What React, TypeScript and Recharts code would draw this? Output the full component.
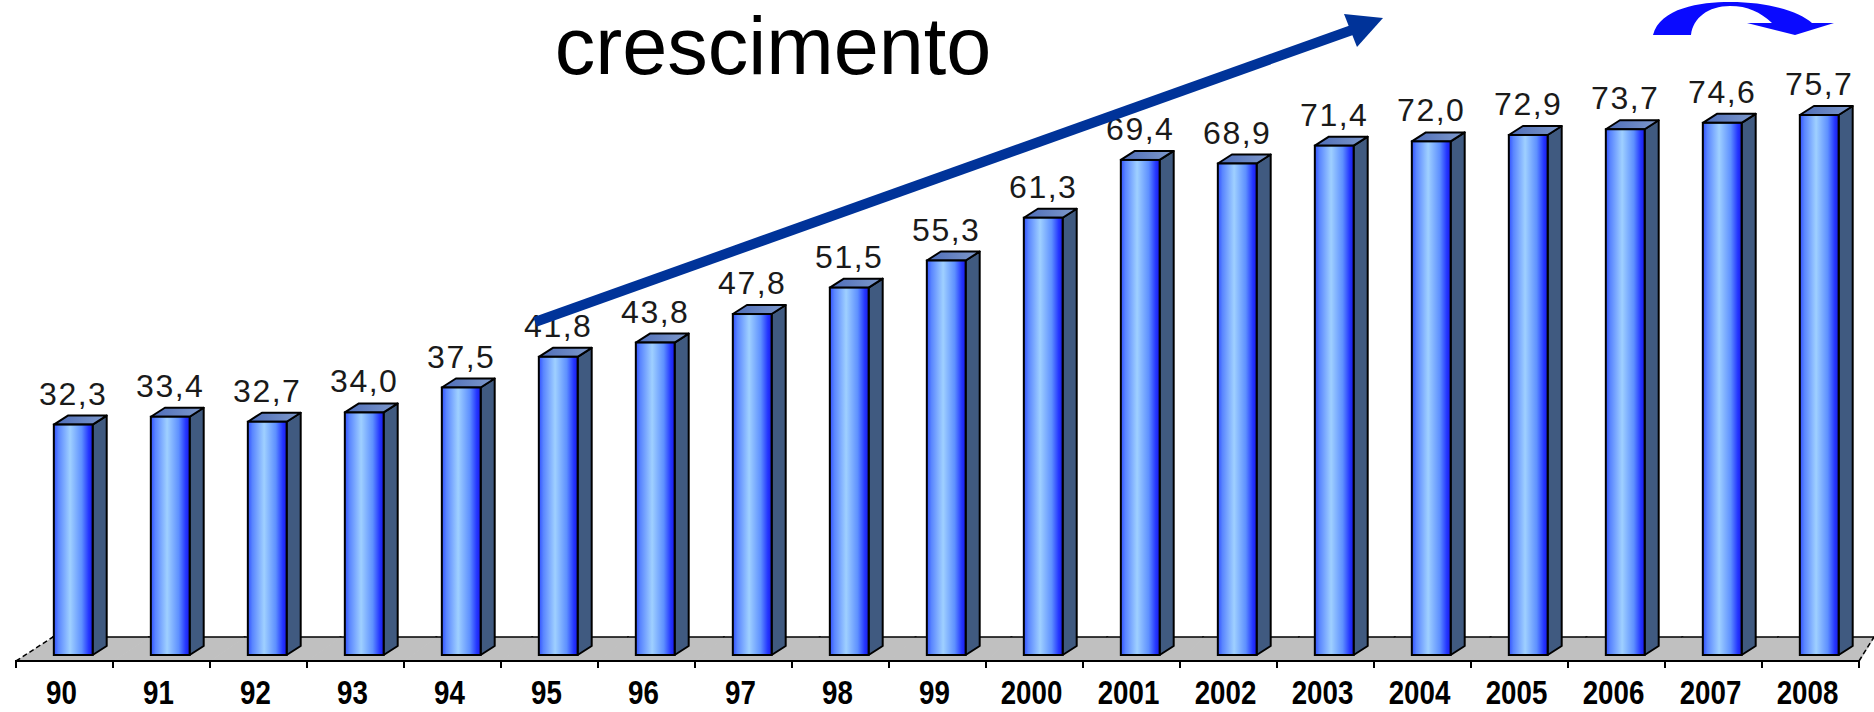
import React from "react";
import { BarChart, Bar, XAxis, YAxis, LabelList } from "recharts";

const years = ["90", "91", "92", "93", "94", "95", "96", "97", "98", "99", "2000", "2001", "2002", "2003", "2004", "2005", "2006", "2007", "2008"];
const values = [32.3, 33.4, 32.7, 34.0, 37.5, 41.8, 43.8, 47.8, 51.5, 55.3, 61.3, 69.4, 68.9, 71.4, 72.0, 72.9, 73.7, 74.6, 75.7];
const title = "crescimento";

const data = years.map((year, i) => ({ year, value: values[i] }));

const W = 1874;
const H = 712;

function fmt(v: number): string {
  return v.toFixed(1).replace(".", ",");
}

// 3D column + its slice of the gray floor
function Column3D(props: any) {
  const { x, y, width, height, index } = props;
  const n = years.length;
  const bottom = y + height;
  const fx = x + width * 0.39;
  const fw = width * 0.4;
  const dx = width * 0.145;
  const dy = 9;
  const front = bottom + 6;
  const back = bottom - 18;
  const skewL = 37 - (22 * index) / n;
  const skewR = 37 - (22 * (index + 1)) / n;
  const x2 = x + width;
  const isFirst = index === 0;
  const isLast = index === n - 1;
  return (
    <g>
      <polygon
        points={`${x},${front} ${x2 + 1},${front} ${x2 + 1 + skewR},${back} ${x + skewL},${back}`}
        fill="#c0c0c0"
      />
      <line x1={x - 1} y1={front} x2={x2 + 1} y2={front} stroke="#000" strokeWidth={2} />
      <line x1={x + skewL - 1} y1={back} x2={x2 + skewR + 1} y2={back} stroke="#000" strokeWidth={1.5} />
      <line x1={x} y1={front} x2={x} y2={front + 7} stroke="#000" strokeWidth={2} />
      {isFirst && (
        <line x1={x} y1={front} x2={x + skewL} y2={back} stroke="#000" strokeWidth={1.5} strokeDasharray="5 3" />
      )}
      {isLast && (
        <>
          <line x1={x2} y1={front} x2={x2} y2={front + 7} stroke="#000" strokeWidth={2} />
          <line x1={x2} y1={front} x2={x2 + skewR} y2={back} stroke="#000" strokeWidth={1.5} strokeDasharray="5 3" />
        </>
      )}
      <polygon
        points={`${fx + fw},${y} ${fx + fw + dx},${y - dy} ${fx + fw + dx},${bottom - dy} ${fx + fw},${bottom}`}
        fill="#405a80"
        stroke="#000"
        strokeWidth={2}
        strokeLinejoin="round"
      />
      <polygon
        points={`${fx},${y} ${fx + dx},${y - dy} ${fx + fw + dx},${y - dy} ${fx + fw},${y}`}
        fill="url(#colTop)"
        stroke="#000"
        strokeWidth={2}
        strokeLinejoin="round"
      />
      <rect x={fx} y={y} width={fw} height={height} fill="url(#colFront)" stroke="#000" strokeWidth={2} />
    </g>
  );
}

function ValueLabel(props: any) {
  const { x, y, width, value } = props;
  const cx = x + width * 0.59;
  return (
    <text
      x={cx}
      y={y - 20}
      textAnchor="middle"
      fontFamily="'Liberation Sans', Arial, sans-serif"
      fontSize={32}
      letterSpacing={1.5}
      fill="#1a1a1a"
    >
      {fmt(value)}
    </text>
  );
}

function YearTick(props: any) {
  const { x, y, payload } = props;
  return (
    <text
      transform={`translate(${x - 3},${y + 49}) scale(0.84,1)`}
      textAnchor="middle"
      fontFamily="'Liberation Sans', Arial, sans-serif"
      fontWeight="bold"
      fontSize={33}
      fill="#000"
    >
      {payload.value}
    </text>
  );
}

export default function App() {
  return (
    <div style={{ position: "absolute", left: 0, top: 0, width: W, height: H, background: "#fff" }}>
      <BarChart
        width={W}
        height={H}
        data={data}
        margin={{ top: 13, right: 15, left: 16, bottom: 0 }}
        barCategoryGap={0}
        barGap={0}
      >
        <defs>
          <linearGradient id="colFront" x1="0" y1="0" x2="1" y2="0">
            <stop offset="0%" stopColor="#3150ff" />
            <stop offset="12%" stopColor="#5a86ff" />
            <stop offset="42%" stopColor="#9fd0ff" />
            <stop offset="72%" stopColor="#5e90ff" />
            <stop offset="90%" stopColor="#2436ff" />
            <stop offset="100%" stopColor="#1a1ae8" />
          </linearGradient>
          <linearGradient id="colTop" x1="0" y1="0" x2="1" y2="0">
            <stop offset="0%" stopColor="#4d6cb8" />
            <stop offset="100%" stopColor="#7f9acb" />
          </linearGradient>
        </defs>
        <XAxis
          dataKey="year"
          axisLine={false}
          tickLine={false}
          tickSize={0}
          tickMargin={0}
          height={57}
          interval={0}
          tick={<YearTick />}
        />
        <YAxis hide domain={[0, 90]} />
        <Bar dataKey="value" shape={<Column3D />} isAnimationActive={false}>
          <LabelList dataKey="value" content={<ValueLabel />} />
        </Bar>
      </BarChart>
      <svg
        width={W}
        height={H}
        style={{ position: "absolute", left: 0, top: 0, pointerEvents: "none" }}
      >
        <text
          x={773}
          y={74}
          textAnchor="middle"
          fontFamily="'Liberation Sans', Arial, sans-serif"
          fontSize={81}
          fill="#000"
        >
          {title}
        </text>
        <line x1={535} y1={322} x2={1352} y2={30} stroke="#003399" strokeWidth={10} />
        <polygon points="1344,14 1383,18 1357,47" fill="#003399" />
        <path
          d="M1653,35 C1660,8 1700,2 1730,2 C1770,2 1800,12 1812,23 L1834,23 L1795,35 L1747,23 L1772,23 C1760,12 1748,6 1730,6 C1708,6 1693,18 1691,35 Z"
          fill="#0a0aff"
        />
      </svg>
    </div>
  );
}
